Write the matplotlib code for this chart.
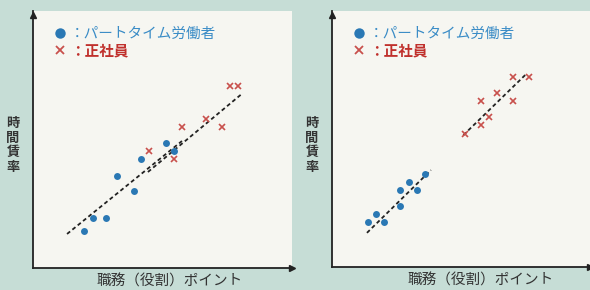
import matplotlib
matplotlib.use("Agg")
import matplotlib.pyplot as plt
from matplotlib.lines import Line2D

plt.rcParams["font.family"] = ["Noto Sans CJK JP", "DejaVu Sans"]

# left panel: balanced (one common line)
left_part_x = [1.99, 2.36, 2.85, 3.28, 3.93, 4.22, 5.20, 5.51]
left_part_y = [1.46, 1.97, 1.97, 3.63, 3.02, 4.28, 4.91, 4.61]
left_reg_x = [4.53, 5.50, 5.81, 6.75, 7.37, 7.68, 8.00]
left_reg_y = [4.62, 4.30, 5.56, 5.88, 5.56, 7.15, 7.15]
left_part_line_x = [1.33, 5.82]
left_part_line_y = [1.34, 5.00]
left_reg_line_x = [4.49, 8.20]
left_reg_line_y = [3.78, 6.89]

# right panel: two separate lines
right_part_x = [1.40, 1.72, 2.02, 2.65, 2.65, 2.98, 3.29, 3.61]
right_part_y = [1.77, 2.10, 1.77, 2.40, 3.05, 3.36, 3.05, 3.68]
right_reg_x = [5.17, 5.80, 6.11, 5.80, 6.42, 7.05, 7.05, 7.68]
right_reg_y = [5.26, 5.60, 5.91, 6.55, 6.87, 6.55, 7.51, 7.51]
right_part_line_x = [1.36, 3.85]
right_part_line_y = [1.35, 3.83]
right_reg_line_x = [5.11, 7.58]
right_reg_line_y = [5.21, 7.65]

part_label = "：パートタイム労働者"
reg_label = "：正社員"
xlabel = "職務（役割）ポイント"
ylabel = "時間賃率"

blue = "#2a78b4"
red = "#c8504c"
bg = "#c6ddd6"
panel_bg = "#f6f6f1"

W, H = 590, 290
fig = plt.figure(figsize=(W / 100, H / 100), dpi=100, facecolor=bg)


def px_axes(l, t, r, b):
    return fig.add_axes([l / W, 1 - b / H, (r - l) / W, (b - t) / H])


def draw_panel(ax, px, py, rx, ry, lines, xmax, ymax):
    ax.set_facecolor(panel_bg)
    ax.set_xlim(0, xmax)
    ax.set_ylim(0, ymax)
    for s in ["top", "right"]:
        ax.spines[s].set_visible(False)
    for s in ["left", "bottom"]:
        ax.spines[s].set_color("#222222")
        ax.spines[s].set_linewidth(1.3)
    ax.set_xticks([])
    ax.set_yticks([])
    # arrow heads on axes
    ax.plot(1, 0, ">", color="#222222", ms=4, transform=ax.transAxes, clip_on=False)
    ax.plot(0, 0.985, "^", color="#222222", ms=4, transform=ax.transAxes, clip_on=False)

    for lx, ly in lines:
        ax.plot(lx, ly, color="#222222", lw=1.3, ls=(0, (2.2, 1.6)))
    ax.plot(px, py, "o", color=blue, ms=5, mec="none", zorder=3)
    ax.plot(rx, ry, "x", color=red, ms=4, mew=1.2, zorder=3)

    handles = [
        Line2D([], [], marker="o", ls="none", color=blue, ms=7.5, mec="none"),
        Line2D([], [], marker="x", ls="none", color=red, ms=6, mew=1.3),
    ]
    leg = ax.legend(handles, [part_label, reg_label], loc="upper left",
                    bbox_to_anchor=(0.06, 0.965), frameon=False,
                    handlelength=0.6, handletextpad=0.35, labelspacing=0.05,
                    borderpad=0, fontsize=10.5, labelcolor=["#3a8cc6", "#c0302c"])
    leg.get_texts()[1].set_fontweight("bold")


ax1 = px_axes(33, 11, 292, 268)
draw_panel(ax1, left_part_x, left_part_y, left_reg_x, left_reg_y,
           [(left_part_line_x, left_part_line_y), (left_reg_line_x, left_reg_line_y)],
           10.12, 10.12)

ax2 = px_axes(332, 11, 590, 267)
draw_panel(ax2, right_part_x, right_part_y, right_reg_x, right_reg_y,
           [(right_part_line_x, right_part_line_y), (right_reg_line_x, right_reg_line_y)],
           10.04, 10.12)

for x in [13, 312]:
    fig.text(x / W, 1 - 145 / H, "\n".join(ylabel), ha="center", va="center",
             fontsize=9.5, fontweight="bold", color="#333333", linespacing=1.05)

fig.text(170 / W, 1 - 282 / H, xlabel, ha="center", va="center",
         fontsize=10.5, color="#333333")
fig.text(481 / W, 1 - 281 / H, xlabel, ha="center", va="center",
         fontsize=10.5, color="#333333")

fig.savefig("out.png", dpi=100, facecolor=bg)
